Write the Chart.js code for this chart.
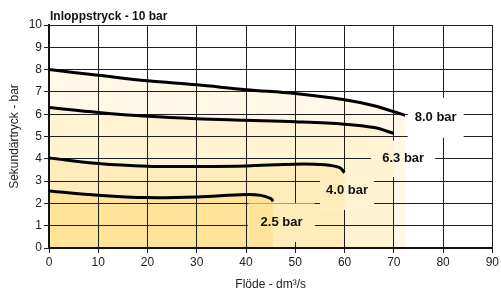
<!DOCTYPE html>
<html>
<head>
<meta charset="utf-8">
<script src="https://cdn.jsdelivr.net/npm/chart.js@4/dist/chart.umd.min.js"></script>
<style>
  html, body { margin: 0; padding: 0; background: #fff; }
  #wrap { width: 501px; height: 295px; position: relative; }
</style>
</head>
<body>
<div id="wrap"><canvas id="chart"></canvas></div>
<script>
// Flow (dm3/s) vs secondary pressure (bar), one curve per set pressure
const flow25 = [0, 10, 20, 30, 40, 43, 45, 45.5];
const pres25 = [2.56, 2.37, 2.26, 2.29, 2.4, 2.36, 2.22, 2.1];

const flow40 = [0, 10, 20, 30, 40, 50, 56, 59, 60];
const pres40 = [4.04, 3.79, 3.67, 3.66, 3.68, 3.76, 3.73, 3.6, 3.38];

const flow63 = [0, 10, 20, 30, 40, 50, 60, 66, 70];
const pres63 = [6.3, 6.08, 5.91, 5.8, 5.73, 5.66, 5.55, 5.4, 5.14];

const flow80 = [0, 10, 20, 30, 40, 50, 60, 66, 72.3];
const pres80 = [8.0, 7.75, 7.5, 7.32, 7.1, 6.93, 6.65, 6.38, 5.95];

const curveNames = ['2.5 bar', '4.0 bar', '6.3 bar', '8.0 bar'];
const xTicks = [0, 10, 20, 30, 40, 50, 60, 70, 80, 90];
const yTicks = [0, 1, 2, 3, 4, 5, 6, 7, 8, 9, 10];

const FONT = '"Liberation Sans", Arial, Helvetica, sans-serif';
const fills = ['rgb(255,227,152)', 'rgb(255,236,186)', 'rgb(255,243,210)', 'rgb(255,248,231)'];

// where each curve name sits (in data units) and the box that hides the grid behind it
const labelSpots = [
  { flow: 47.2, pres: 1.13, halfW: 33, halfH: 19 },
  { flow: 60.5, pres: 2.58, halfW: 27, halfH: 19 },
  { flow: 71.9, pres: 4.0, halfW: 32, halfH: 18 },
  { flow: 78.5, pres: 5.84, halfW: 28, halfH: 20 }
];

const toPoints = (xs, ys) => xs.map((x, i) => ({ x: x, y: ys[i] }));
const series = [
  toPoints(flow25, pres25),
  toPoints(flow40, pres40),
  toPoints(flow63, pres63),
  toPoints(flow80, pres80)
];

const curveLabelPlugin = {
  id: 'curveLabels',
  beforeDatasetsDraw(chart) {
    const { ctx, scales: { x, y } } = chart;
    ctx.save();
    labelSpots.forEach((spot, i) => {
      const cx = x.getPixelForValue(spot.flow);
      const cy = y.getPixelForValue(spot.pres);
      const l = cx - spot.halfW, r = cx + spot.halfW;
      const t = cy - spot.halfH, b = cy + spot.halfH;
      ctx.fillStyle = '#fff';
      ctx.fillRect(l, t, r - l, b - t);
      // repaint the shaded areas that reach into the box, lightest first
      for (let k = series.length - 1; k >= 0; k--) {
        const pts = series[k];
        const end = x.getPixelForValue(pts[pts.length - 1].x);
        const right = Math.min(r, end);
        if (right > l) {
          ctx.fillStyle = fills[k];
          ctx.fillRect(l, t, right - l, b - t);
        }
      }
      ctx.fillStyle = '#111';
      ctx.font = 'bold 13px ' + FONT;
      ctx.textAlign = 'center';
      ctx.textBaseline = 'middle';
      ctx.fillText(curveNames[i], cx, cy);
    });
    ctx.restore();
  },
  afterDraw(chart) {
    const { ctx, chartArea } = chart;
    ctx.save();
    ctx.fillStyle = '#111';
    ctx.font = 'bold 12px ' + FONT;
    ctx.textAlign = 'left';
    ctx.textBaseline = 'alphabetic';
    ctx.fillText('Inloppstryck - 10 bar', chartArea.left + 1, chartArea.top - 5);
    ctx.restore();
  }
};

new Chart(document.getElementById('chart'), {
  type: 'line',
  data: {
    datasets: series.map((pts, i) => ({
      label: curveNames[i],
      data: pts,
      borderColor: '#000',
      borderWidth: 3,
      backgroundColor: fills[i],
      fill: 'origin',
      pointRadius: 0,
      tension: 0.35
    }))
  },
  options: {
    responsive: true,
    maintainAspectRatio: false,
    animation: false,
    devicePixelRatio: 1,
    layout: { padding: { left: 0, right: 7, top: 25, bottom: 0 } },
    plugins: {
      legend: { display: false },
      tooltip: { enabled: false },
      filler: { drawTime: 'beforeDraw' }
    },
    scales: {
      x: {
        type: 'linear',
        min: 0,
        max: 90,
        afterBuildTicks: (s) => { s.ticks = xTicks.map(v => ({ value: v })); },
        afterFit: (s) => { s.height = 47; },
        ticks: { color: '#222', font: { family: FONT, size: 12 }, padding: 2, maxRotation: 0 },
        grid: { color: '#1e1e1e', lineWidth: 1, tickLength: 5 },
        border: { color: '#111', width: 2 },
        title: {
          display: true,
          text: 'Flöde - dm³/s',
          color: '#222',
          font: { family: FONT, size: 12 },
          padding: { top: 0, bottom: 3 }
        }
      },
      y: {
        type: 'linear',
        min: 0,
        max: 10,
        afterBuildTicks: (s) => { s.ticks = yTicks.map(v => ({ value: v })); },
        afterFit: (s) => { s.width = 49; },
        ticks: { color: '#222', font: { family: FONT, size: 12 }, padding: 2 },
        grid: { color: '#1e1e1e', lineWidth: 1, tickLength: 5 },
        border: { color: '#111', width: 2 },
        title: {
          display: true,
          text: 'Sekundärtryck - bar',
          color: '#222',
          font: { family: FONT, size: 12 },
          padding: { top: 7, bottom: 0 }
        }
      }
    }
  },
  plugins: [curveLabelPlugin]
});
</script>
</body>
</html>
